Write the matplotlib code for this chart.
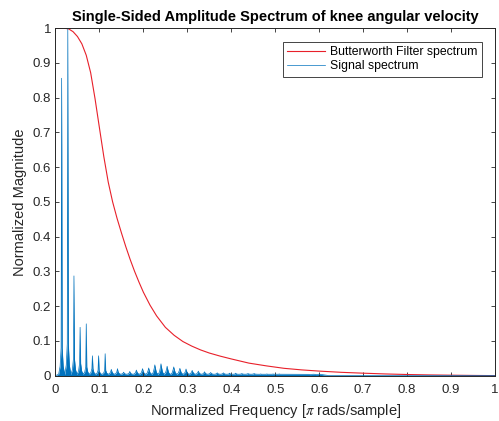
import numpy as np
import matplotlib.pyplot as plt

plt.rcParams['font.family'] = ['Liberation Sans', 'DejaVu Sans']
plt.rcParams['mathtext.fontset'] = 'stix'

# Butterworth filter response
bw_f = [0.0, 0.02, 0.03, 0.04, 0.05, 0.06, 0.07, 0.08, 0.09, 0.10,
        0.11, 0.12, 0.13, 0.14, 0.15, 0.16, 0.17, 0.18, 0.19, 0.20,
        0.215, 0.23, 0.25, 0.27, 0.29, 0.31, 0.33, 0.35, 0.375, 0.40,
        0.44, 0.48, 0.52, 0.56, 0.60, 0.65, 0.70, 0.75, 0.80, 0.85,
        0.90, 0.95, 1.0]
bw_a = [1.0, 1.0, 0.998, 0.990, 0.976, 0.955, 0.922, 0.872, 0.797, 0.713,
        0.630, 0.557, 0.500, 0.453, 0.411, 0.371, 0.334, 0.300, 0.269, 0.240,
        0.203, 0.172, 0.139, 0.116, 0.098, 0.085, 0.074, 0.065, 0.056, 0.048,
        0.036, 0.028, 0.021, 0.0165, 0.013, 0.0095, 0.007, 0.0048, 0.0032, 0.002,
        0.0012, 0.0005, 0.0]

# signal spectrum: harmonic positions, spike heights and leakage base heights
harm_f = [0.014, 0.028, 0.042, 0.056, 0.070, 0.084, 0.098, 0.113, 0.127, 0.141,
          0.155, 0.169, 0.184, 0.198, 0.212, 0.226, 0.240, 0.254, 0.269, 0.283,
          0.297, 0.311, 0.325, 0.339, 0.353, 0.368, 0.382, 0.396, 0.410, 0.424,
          0.438, 0.452, 0.467, 0.481, 0.495, 0.509, 0.523, 0.537, 0.551, 0.565,
          0.580, 0.594]
harm_peak = [0.856, 1.0, 0.287, 0.139, 0.149, 0.057, 0.057, 0.063, 0.018, 0.020,
             0.010, 0.012, 0.016, 0.020, 0.022, 0.031, 0.034, 0.027, 0.025, 0.021,
             0.019, 0.015, 0.013, 0.011, 0.009, 0.008, 0.008, 0.007, 0.007, 0.006,
             0.006, 0.006, 0.005, 0.005, 0.005, 0.005, 0.004, 0.004, 0.004, 0.004,
             0.003, 0.003]
harm_base = [0.080, 0.092, 0.048, 0.035, 0.025, 0.020, 0.015, 0.015, 0.012, 0.012,
             0.007, 0.008, 0.011, 0.014, 0.015, 0.022, 0.024, 0.019, 0.018, 0.015,
             0.013, 0.011, 0.009, 0.008, 0.007, 0.006, 0.006, 0.005, 0.005, 0.005,
             0.005, 0.005, 0.004, 0.004, 0.004, 0.004, 0.004, 0.004, 0.004, 0.004,
             0.003, 0.003]

blue = '#0072BD'
red = '#e8202a'
dark = '#262626'

floor = 0.004
sx, sy = [0.0], [0.0]
for f, p, b in zip(harm_f, harm_peak, harm_base):
    sx += [f - 0.0068, f - 0.0035, f - 0.0012, f, f + 0.0012, f + 0.0035, f + 0.0068]
    sy += [floor, floor + 0.3 * (b - floor), b, p, b, floor + 0.3 * (b - floor), floor]
sx += [0.62, 1.0]
sy += [0.0005, 0.0]
sx = np.array(sx)
sy = np.array(sy)

fig = plt.figure(figsize=(4.99, 4.21), dpi=100)
ax = fig.add_axes([0.1112, 0.1078, 0.8808, 0.8252])

ax.plot(bw_f, bw_a, color=red, lw=0.8, label='Butterworth Filter spectrum')
ax.fill_between(sx, sy, color=blue, lw=0)
ax.plot(sx, sy, color=blue, lw=0.5, label='Signal spectrum')

ax.set_xlim(0, 1)
ax.set_ylim(0, 1)
ax.set_xticks(np.arange(0, 1.01, 0.1))
ax.set_yticks(np.arange(0, 1.01, 0.1))
ax.set_xticklabels(['0', '0.1', '0.2', '0.3', '0.4', '0.5', '0.6', '0.7', '0.8', '0.9', '1'])
ax.set_yticklabels(['0', '0.1', '0.2', '0.3', '0.4', '0.5', '0.6', '0.7', '0.8', '0.9', '1'])
ax.tick_params(direction='in', length=3, width=0.6, top=True, right=True,
               labelsize=9.5, colors=dark)
ax.tick_params(axis='x', pad=6)
ax.tick_params(axis='y', pad=3)
for s in ax.spines.values():
    s.set_color(dark)
    s.set_linewidth(0.7)

ax.set_title('Single-Sided Amplitude Spectrum of knee angular velocity',
             fontsize=10.5, fontweight='bold', color='black', pad=5)
ax.set_xlabel(r'Normalized Frequency [$\pi$ rads/sample]', fontsize=10.5, color=dark, labelpad=4)
ax.set_ylabel('Normalized Magnitude', fontsize=10.5, color=dark, labelpad=4)

leg = ax.legend(loc='upper right', bbox_to_anchor=(0.9695, 0.9597), borderaxespad=0,
                fontsize=8.8, fancybox=False, framealpha=1, edgecolor=dark,
                handlelength=3.1, handletextpad=0.4, labelspacing=0.15,
                borderpad=0.35)
leg.get_frame().set_linewidth(0.6)
leg.get_lines()[0].set_color(red)

fig.savefig('out.png', dpi=100)
